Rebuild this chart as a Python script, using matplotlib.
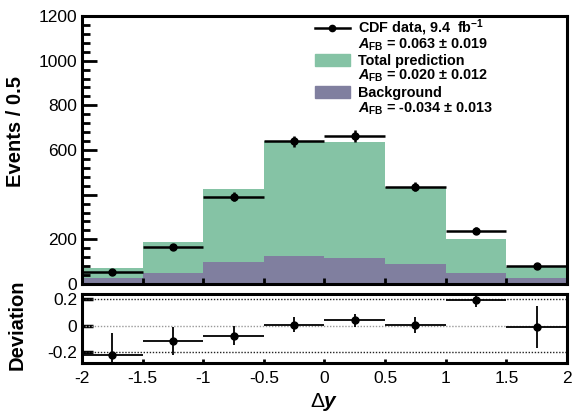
import numpy as np
import matplotlib
matplotlib.use("Agg")
import matplotlib.pyplot as plt
from matplotlib.patches import Rectangle
from matplotlib.lines import Line2D

plt.rcParams.update({'font.family': 'Liberation Sans', 'font.size': 12.5,
                     'mathtext.fontset': 'custom',
                     'mathtext.rm': 'Liberation Sans:bold',
                     'mathtext.it': 'Liberation Sans:italic:bold',
                     'mathtext.bf': 'Liberation Sans:bold'})

# datos
bin_edges = [-2.0, -1.5, -1.0, -0.5, 0.0, 0.5, 1.0, 1.5, 2.0]
total_pred = [73, 186, 425, 641, 635, 436, 201, 78]
background = [28, 51, 100, 125, 118, 90, 49, 25]
data_counts = [55, 164, 391, 638, 662, 436, 238, 82]
deviation = [-0.224, -0.117, -0.076, 0.008, 0.041, 0.003, 0.195, -0.012]
deviation_err = [0.17, 0.105, 0.07, 0.055, 0.05, 0.06, 0.055, 0.16]
ytick_labels = ["0", "200", "", "600", "800", "1000", "1200"]

edges = np.array(bin_edges)
centers = 0.5 * (edges[:-1] + edges[1:])
widths = np.diff(edges)
data_err = np.sqrt(data_counts)

green = '#85C3A5'
purple = '#807F9F'

fig = plt.figure(figsize=(5.73, 4.15), dpi=100)
ax = fig.add_axes([0.1431, 0.3157, 0.8464, 0.6458])
ax2 = fig.add_axes([0.1431, 0.1253, 0.8464, 0.1663])

ax.bar(centers, total_pred, width=widths, color=green, linewidth=0)
ax.bar(centers, background, width=widths, color=purple, linewidth=0)
ax.errorbar(centers, data_counts, xerr=widths / 2, yerr=data_err, fmt='o',
            color='black', ms=5, elinewidth=1.8, capsize=0)

ax.set_xlim(-2, 2)
ax.set_ylim(0, 1200)
ax.set_yticks(np.arange(0, 1201, 200))
ax.set_yticklabels(ytick_labels)
ax.set_yticks(np.arange(0, 1201, 40), minor=True)
ax.set_xticks(edges)
ax.set_xticklabels([])
ax.tick_params(axis='y', which='major', direction='in', length=11, width=2)
ax.tick_params(axis='y', which='minor', direction='in', length=6, width=2)
ax.tick_params(axis='x', which='major', direction='in', length=4, width=2)
ax.set_ylabel("Events / 0.5", fontweight='bold', fontsize=14.5)
ax.yaxis.set_label_coords(-0.118, 0.57)
for s in ax.spines.values():
    s.set_linewidth(2.2)

# leyenda
ax.add_line(Line2D([0.480, 0.553], [0.955, 0.955], color='black', lw=1.8,
                   transform=ax.transAxes))
ax.plot([0.5165], [0.955], 'o', color='black', ms=4.5, transform=ax.transAxes)
ax.add_patch(Rectangle((0.480, 0.813), 0.073, 0.045, color=green,
                       transform=ax.transAxes))
ax.add_patch(Rectangle((0.480, 0.694), 0.073, 0.045, color=purple,
                       transform=ax.transAxes))
leg_lines = ["CDF data, 9.4  fb$^{-1}$",
             "$A_{\\mathrm{FB}}$ = 0.063 ± 0.019",
             "Total prediction",
             "$A_{\\mathrm{FB}}$ = 0.020 ± 0.012",
             "Background",
             "$A_{\\mathrm{FB}}$ = -0.034 ± 0.013"]
leg_y = [0.938, 0.879, 0.817, 0.761, 0.699, 0.641]
for t, yy in zip(leg_lines, leg_y):
    ax.text(0.569, yy, t, transform=ax.transAxes, fontweight='bold',
            fontsize=10.4, va='baseline', ha='left')

# panel inferior
for yy, c in [(0.2, '#222222'), (0.0, '#999999'), (-0.2, '#222222')]:
    ax2.axhline(yy, color=c, lw=1, ls=(0, (1, 1.2)))
ax2.errorbar(centers, deviation, xerr=widths / 2, yerr=deviation_err, fmt='o',
             color='black', ms=5, elinewidth=1.3, capsize=0)
ax2.set_xlim(-2, 2)
ax2.set_ylim(-0.285, 0.242)
ax2.set_yticks([-0.2, 0, 0.2])
ax2.set_yticklabels(["-0.2", "0", "0.2"])
ax2.set_xticks(edges)
ax2.set_xticklabels(["-2", "-1.5", "-1", "-0.5", "0", "0.5", "1", "1.5", "2"])
ax2.tick_params(axis='y', direction='in', length=8, width=2.5)
ax2.tick_params(axis='x', direction='in', length=3, width=2, pad=6)
ax2.set_ylabel("Deviation", fontweight='bold', fontsize=14.5)
ax2.yaxis.set_label_coords(-0.114, 0.55)
ax2.set_xlabel("Δ$y$", fontsize=15)
ax2.xaxis.set_label_coords(0.5, -0.40)
for s in ax2.spines.values():
    s.set_linewidth(2.2)

plt.savefig("out.png", dpi=100)
